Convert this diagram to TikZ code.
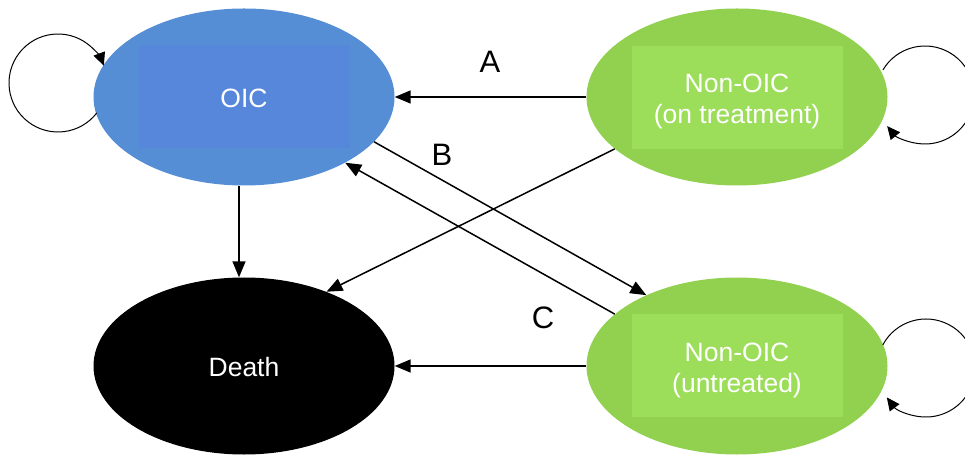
\documentclass[tikz,border=0pt]{standalone}
\usepackage{fontspec}
\setmainfont{Liberation Sans}
\usetikzlibrary{shapes.geometric,arrows.meta}
\definecolor{oicout}{HTML}{558ED5}
\definecolor{oicin}{HTML}{5787DA}
\definecolor{grout}{HTML}{92D050}
\definecolor{grin}{HTML}{9CDD5A}
\begin{document}
\begin{tikzpicture}[x=1pt,y=1pt,
  state/.style={ellipse, minimum width=301pt, minimum height=177pt, inner sep=0pt, draw=none},
  inbox/.style={rectangle, minimum width=211pt, minimum height=103pt, inner sep=0pt},
  stext/.style={text=white, font=\fontsize{26.5}{30.5}\selectfont, align=center, inner sep=0pt},
  conn/.style={line width=1.5pt, -{Triangle[length=16pt,width=13pt]}},
  loopc/.style={line width=1pt, -{Triangle[length=13pt,width=12pt]}},
  lab/.style={font=\fontsize{31}{36}\selectfont}]
\useasboundingbox (0,0) rectangle (965,455);
\clip (0,0) rectangle (965,455);
% states
\node[state, fill=oicout] (oic) at (244,358) {};
\node[inbox, fill=oicin] (oicb) at (244,358) {};
\node[stext] (oict) at (244,356.5) {OIC};
\node[state, fill=grout] (ntr) at (737,358) {};
\node[inbox, fill=grin] (ntrb) at (737,357.5) {};
\node[stext] (ntrt) at (737,353.5) {Non-OIC\\(on treatment)};
\node[state, fill=black] (death) at (244,89) {};
\node[stext] (deatht) at (244,88) {Death};
\node[state, fill=grout] (untr) at (737,89) {};
\node[inbox, fill=grin] (untrb) at (737,89.5) {};
\node[stext] (untrt) at (737,84.5) {Non-OIC\\(untreated)};
% connectors
\draw[conn] (ntr.west) -- (oic.east);
\draw[conn] ([xshift=-5pt]oic.south) -- ([xshift=-5pt]death.north);
\draw[conn] (ntr.203.4) -- (death.42.9);
\draw[conn] (oic.-19.5) -- (untr.142.5);
\draw[conn] (untr.157.3) -- (oic.-33.2);
\draw[conn] (untr.west) -- (death.east);
% self loops
\coordinate (lo) at (58,372);
\coordinate (ln) at (925,360);
\coordinate (lu) at (926,87);
\draw[loopc] (lo) ++(-37.6:49) arc[start angle=-37.6, end angle=-339.3, radius=49];
\draw[loopc] (ln) ++(149.2:49) arc[start angle=149.2, end angle=-140.6, radius=49];
\draw[loopc] (lu) ++(151.9:49) arc[start angle=151.9, end angle=-143.1, radius=49];
% labels
\node[lab] (la) at (490,393) {A};
\node[lab] (lb) at (442,300) {B};
\node[lab] (lc) at (543,137) {C};
\end{tikzpicture}
\end{document}
